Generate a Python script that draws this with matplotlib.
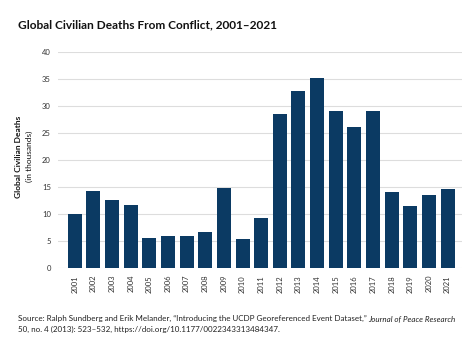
import numpy as np
import matplotlib.pyplot as plt

years = [str(y) for y in range(2001, 2022)]
deaths = [10.0, 14.3, 12.5, 11.7, 5.5, 5.9, 5.9, 6.6, 14.8, 5.4, 9.2,
          28.5, 32.8, 35.2, 29.0, 26.2, 29.1, 14.1, 11.4, 13.6, 14.7]
yticks = [0, 5, 10, 15, 20, 25, 30, 35, 40]

navy = "#0b3a63"
plt.rcParams['font.family'] = ['Lato', 'DejaVu Sans']

fig = plt.figure(figsize=(4.74, 3.54), dpi=100)
ax = fig.add_axes([0.122, 0.243, 0.853, 0.61])

x = np.arange(len(years))
ax.bar(x, deaths, width=0.75, color=navy, zorder=3)
ax.set_xlim(-0.91, 20.78)
ax.set_ylim(0, 40)
ax.set_yticks(yticks)
ax.set_xticks(x)
ax.set_xticklabels(years, rotation=90, fontsize=5.5, color="#333333")
ax.tick_params(axis='y', labelsize=5.5, colors="#333333", length=0, pad=5)
ax.tick_params(axis='x', length=0, pad=5)
ax.grid(axis='y', color="#dddddd", linewidth=0.8, zorder=0)
for s in ax.spines.values():
    s.set_visible(False)

fig.text(0.038, 0.921, "Global Civilian Deaths From Conflict, 2001\u20132021",
         fontsize=8.6, fontweight='bold', color="#111111", va='baseline')

fig.text(0.038, 0.558, "Global Civilian Deaths", rotation=90, fontsize=6,
         fontweight='bold', ha='center', va='center', color="#111111")
fig.text(0.063, 0.558, "(in thousands)", rotation=90, fontsize=6,
         ha='center', va='center', color="#111111")

# source note, journal name in italics
t1 = fig.text(0.038, 0.093, "Source: Ralph Sundberg and Erik Melander, \u201cIntroducing the UCDP "
              "Georeferenced Event Dataset,\u201d", fontsize=5.8, color="#222222",
              va='baseline')
fig.canvas.draw()
bb = t1.get_window_extent(renderer=fig.canvas.get_renderer())
fig.text((bb.x1 + 1) / fig.bbox.width, 0.093, "Journal of Peace Research", fontsize=5.8,
         style='italic', color="#222222", va='baseline')
fig.text(0.038, 0.062, "50, no. 4 (2013): 523\u2013532, https://doi.org/10.1177/0022343313484347.",
         fontsize=5.8, color="#222222", va='baseline')

fig.savefig("out.png", dpi=100)
